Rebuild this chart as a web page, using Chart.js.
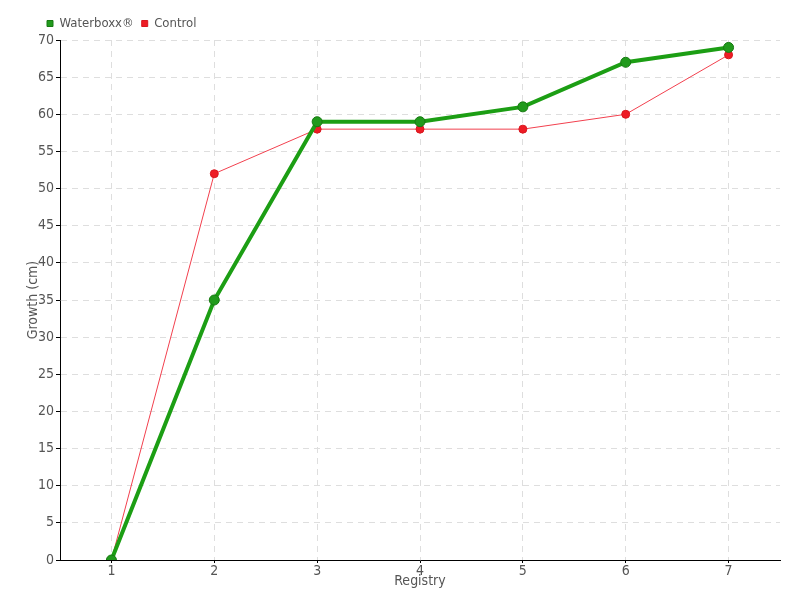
<!DOCTYPE html>
<html>
<head>
<meta charset="utf-8">
<script src="https://cdn.jsdelivr.net/npm/chart.js@4"></script>
<style>
  body { margin: 0; background: #fff; }
  #wrap { width: 800px; height: 600px; }
</style>
</head>
<body>
<div id="wrap"><canvas id="myChart"></canvas></div>
<script>
const registry = ["1", "2", "3", "4", "5", "6", "7"];
const waterboxx = [0, 35, 59, 59, 61, 67, 69];
const control = [0, 52, 58, 58, 58, 60, 68];

Chart.defaults.font.family = '"Liberation Sans Narrow", "DejaVu Sans Condensed", sans-serif';
Chart.defaults.color = "#555";

// move the legend to the right a bit, like the original
const legendShift = {
  id: "legendShift",
  beforeDraw(chart) {
    if (chart.legend) chart.legend.left = 39;
  },
};

const ctx = document.getElementById("myChart");

new Chart(ctx, {
  type: "line",
  data: {
    labels: registry,
    datasets: [
      {
        label: "Waterboxx®",
        data: waterboxx,
        borderColor: "#1c9e14",
        backgroundColor: "#1c9e14",
        borderWidth: 4,
        pointRadius: 5,
        pointBackgroundColor: "#219a1c",
        pointBorderColor: "#177a12",
        pointBorderWidth: 1,
        tension: 0,
      },
      {
        label: "Control",
        data: control,
        borderColor: "#f2404e",
        backgroundColor: "#ee1c25",
        borderWidth: 1,
        pointRadius: 4,
        pointBackgroundColor: "#ee1c25",
        pointBorderColor: "#d81820",
        pointBorderWidth: 1,
        tension: 0,
      },
    ],
  },
  plugins: [legendShift],
  options: {
    responsive: true,
    maintainAspectRatio: false,
    animation: false,
    layout: { padding: { left: 0, right: 20, top: 9, bottom: 0 } },
    scales: {
      x: {
        offset: true,
        title: { display: true, text: "Registry", font: { size: 14 }, padding: { top: 0, bottom: 10 } },
        ticks: { font: { size: 14 }, padding: 0 },
        grid: {
          color: "#dedede",
          tickColor: "#000",
          tickLength: 3,
          tickBorderDash: [],
          offset: false,
        },
        border: { display: true, color: "#000", width: 1, dash: [6, 5] },
        afterFit: (scale) => { scale.height = 40; },
      },
      y: {
        min: 0,
        max: 70,
        ticks: { stepSize: 5, font: { size: 14 }, padding: 2 },
        title: { display: true, text: "Growth (cm)", font: { size: 14 }, padding: { top: 25, bottom: 0 } },
        grid: {
          color: "#dedede",
          tickColor: "#000",
          tickLength: 4,
          tickBorderDash: [],
        },
        border: { display: true, color: "#000", width: 1, dash: [6, 5] },
        afterFit: (scale) => { scale.width = 60; },
      },
    },
    plugins: {
      legend: {
        position: "top",
        align: "start",
        labels: {
          usePointStyle: true,
          pointStyle: "rect",
          boxWidth: 6,
          boxHeight: 6,
          padding: 8,
          font: { size: 13 },
          color: "#555",
        },
      },
      tooltip: { enabled: false },
    },
  },
});
</script>
</body>
</html>
